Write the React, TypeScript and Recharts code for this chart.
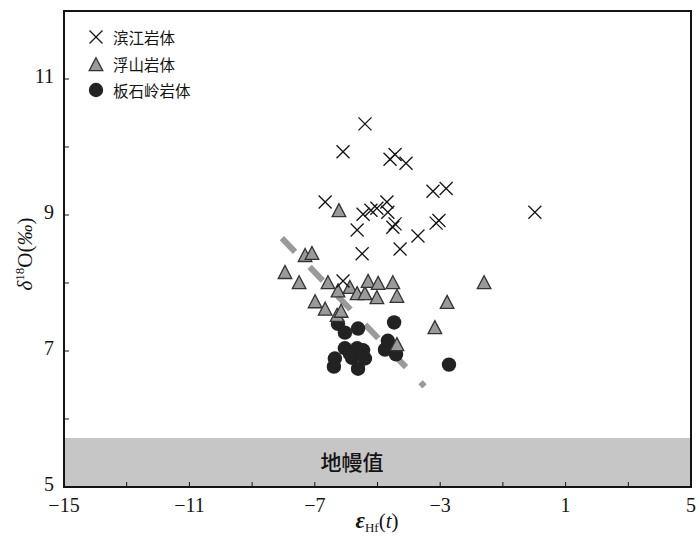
import React from 'react';
import {
  ScatterChart,
  Scatter,
  XAxis,
  YAxis,
  ReferenceArea,
  ReferenceLine,
} from 'recharts';

// εHf(t) vs δ18O, three plutons
const binjiang: Array<[number, number]> = [
  [-5.4, 10.34], [-6.1, 9.93], [-4.6, 9.82], [-4.44, 9.89], [-4.09, 9.76],
  [-6.67, 9.19], [-5.46, 9.01], [-5.21, 9.07], [-5.02, 9.1], [-4.7, 9.19],
  [-4.67, 9.04], [-4.51, 8.82], [-4.44, 8.87], [-5.65, 8.78], [-3.71, 8.69],
  [-3.23, 9.35], [-2.81, 9.39], [-3.13, 8.88], [-3.04, 8.92], [-5.49, 8.43],
  [-4.28, 8.5], [-6.1, 8.03], [0.02, 9.04],
];

const fushan: Array<[number, number]> = [
  [-7.31, 8.4], [-7.09, 8.43], [-7.95, 8.15], [-7.5, 8.0], [-6.58, 8.0],
  [-6.26, 7.88], [-5.88, 7.93], [-5.65, 7.84], [-5.4, 7.84], [-5.3, 8.02],
  [-4.98, 7.99], [-4.51, 8.0], [-5.02, 7.78], [-4.38, 7.8], [-6.99, 7.72],
  [-6.67, 7.61], [-6.29, 7.52], [-6.16, 7.58], [-4.38, 7.09], [-2.78, 7.71],
  [-3.17, 7.34], [-1.6, 8.0], [-6.23, 9.06],
];

const banshiling: Array<[number, number]> = [
  [-6.26, 7.4], [-6.04, 7.27], [-5.62, 7.33], [-4.47, 7.42], [-6.04, 7.04],
  [-5.65, 7.04], [-5.46, 7.01], [-5.81, 6.9], [-5.4, 6.89], [-6.36, 6.89],
  [-6.39, 6.77], [-5.62, 6.74], [-4.67, 7.15], [-4.76, 7.02], [-4.41, 6.95],
  [-2.72, 6.8], [-5.88, 6.96],
];

const trendLine = [
  { x: -8.05, y: 8.66 },
  { x: -3.5, y: 6.48 },
];

const mantleRange = [5, 5.72];
const xTicks = [-15, -13, -11, -9, -7, -5, -3, -1, 1, 3, 5];
const xLabelled = [-15, -11, -7, -3, 1, 5];
const yTicks = [5, 6, 7, 8, 9, 10, 11];
const yLabelled = [5, 7, 9, 11];

const toPoints = (rows: Array<[number, number]>) => rows.map(([x, y]) => ({ x, y }));

const INK = '#141414';
const serif = '"Liberation Serif", "DejaVu Serif", serif';
const cjk = '"Noto Sans CJK SC", "Noto Sans", sans-serif';

const fmtNum = (v: number) => (v < 0 ? '\u2212' + Math.abs(v) : String(v));

function CrossShape(props: any) {
  const { cx, cy } = props;
  const r = 6.5;
  return (
    <g stroke={INK} strokeWidth={1.3}>
      <line x1={cx - r} y1={cy - r} x2={cx + r} y2={cy + r} />
      <line x1={cx - r} y1={cy + r} x2={cx + r} y2={cy - r} />
    </g>
  );
}

function TriangleShape(props: any) {
  const { cx, cy } = props;
  const w = 6.8;
  return (
    <path
      d={`M${cx},${cy - 7.3} L${cx + w},${cy + 5.7} L${cx - w},${cy + 5.7} Z`}
      fill="#9a9a9a"
      stroke="#333"
      strokeWidth={1.3}
    />
  );
}

function CircleShape(props: any) {
  const { cx, cy } = props;
  return <circle cx={cx} cy={cy} r={7.2} fill="#222" />;
}

function MantleLabel(props: any) {
  const vb = props.viewBox || {};
  const cy = (vb.y ?? 0) + (vb.height ?? 0) / 2;
  return (
    <text x={352} y={cy} dy="0.36em" textAnchor="middle" fontFamily={cjk} fontSize={21} fontWeight={500} fill={INK}>
      地幔值
    </text>
  );
}

function XLabel() {
  return (
    <text x={377} y={528} textAnchor="middle" fontFamily={serif} fontSize={21} fill={INK}>
      <tspan fontStyle="italic" fontWeight="bold" fontSize={23}>ε</tspan>
      <tspan fontSize={13} dy={4}>Hf</tspan>
      <tspan dy={-4}>(</tspan>
      <tspan fontStyle="italic">t</tspan>
      <tspan>)</tspan>
    </text>
  );
}

function YLabel() {
  return (
    <text
      transform="translate(32,254) rotate(-90)"
      textAnchor="middle"
      fontFamily={serif}
      fontSize={21}
      fill={INK}
    >
      <tspan fontStyle="italic">δ</tspan>
      <tspan fontSize={13} dy={-8}>18</tspan>
      <tspan dy={8}>O(</tspan>
      <tspan fontStyle="italic">‰</tspan>
      <tspan>)</tspan>
    </text>
  );
}

const legendItems = [
  { name: '滨江岩体', kind: 'cross' },
  { name: '浮山岩体', kind: 'tri' },
  { name: '板石岭岩体', kind: 'dot' },
];

function LegendIcon({ kind }: { kind: string }) {
  return (
    <svg width={18} height={18} style={{ display: 'block' }}>
      {kind === 'cross' && <CrossShape cx={9} cy={9} />}
      {kind === 'tri' && <TriangleShape cx={9} cy={10} />}
      {kind === 'dot' && <CircleShape cx={9} cy={9} />}
    </svg>
  );
}

export default function App() {
  return (
    <div style={{ position: 'absolute', left: 0, top: 0, width: 700, height: 537, background: '#fff' }}>
      <ScatterChart width={700} height={537} margin={{ top: 11, right: 9, bottom: 0, left: 0 }}>
        <ReferenceArea
          x1={-15}
          x2={5}
          y1={mantleRange[0]}
          y2={mantleRange[1]}
          fill="#c6c6c6"
          fillOpacity={1}
          stroke="none"
          label={<MantleLabel />}
        />
        <XAxis
          type="number"
          dataKey="x"
          domain={[-15, 5]}
          ticks={xTicks}
          interval={0}
          allowDataOverflow
          height={50}
          tickSize={-5}
          tickMargin={16}
          tickFormatter={(v: number) => (xLabelled.includes(v) ? fmtNum(v) : '')}
          tick={{ fill: INK, fontSize: 20, fontFamily: serif }}
          axisLine={{ stroke: INK, strokeWidth: 2 }}
          tickLine={{ stroke: INK }}
          label={<XLabel />}
        />
        <YAxis
          type="number"
          dataKey="y"
          domain={[5, 12]}
          ticks={yTicks}
          interval={0}
          allowDataOverflow
          width={64}
          tickSize={-5}
          tickMargin={15}
          tickFormatter={(v: number) => (yLabelled.includes(v) ? fmtNum(v) : '')}
          tick={{ fill: INK, fontSize: 20, fontFamily: serif, dy: -3 }}
          axisLine={{ stroke: INK, strokeWidth: 2 }}
          tickLine={{ stroke: INK }}
          label={<YLabel />}
        />
        <ReferenceArea x1={-15} x2={5} y1={5} y2={12} fill="none" stroke={INK} strokeWidth={2} />
        <Scatter data={toPoints(banshiling)} shape={<CircleShape />} isAnimationActive={false} />
        <ReferenceLine
          segment={trendLine}
          stroke="#9a9a9a"
          strokeWidth={6}
          strokeDasharray="19 21"
        />
        <Scatter data={toPoints(fushan)} shape={<TriangleShape />} isAnimationActive={false} />
        <Scatter data={toPoints(binjiang)} shape={<CrossShape />} isAnimationActive={false} />
      </ScatterChart>
      <div style={{ position: 'absolute', left: 87, top: 24, fontFamily: cjk, fontSize: 15.5, color: INK }}>
        {legendItems.map((it) => (
          <div key={it.name} style={{ display: 'flex', alignItems: 'center', height: 26.5 }}>
            <LegendIcon kind={it.kind} />
            <span style={{ marginLeft: 8 }}>{it.name}</span>
          </div>
        ))}
      </div>
    </div>
  );
}
